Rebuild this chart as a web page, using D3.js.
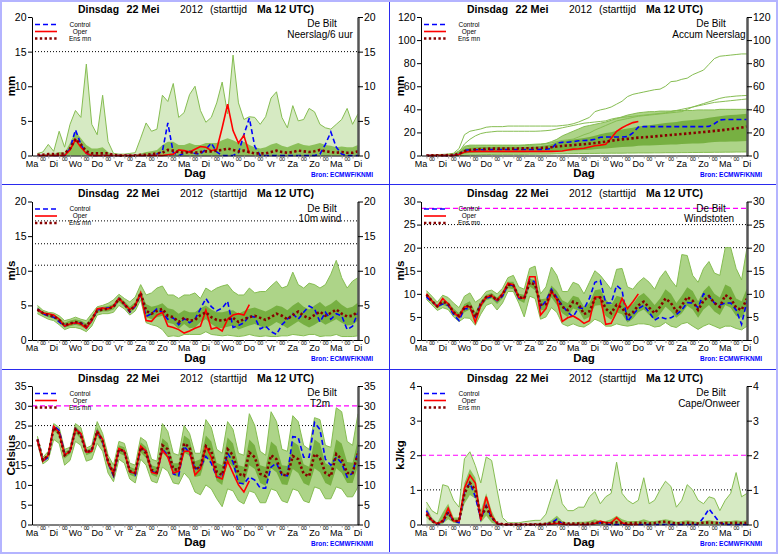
<!DOCTYPE html>
<html>
<head>
<meta charset="utf-8">
<script src="https://cdn.jsdelivr.net/npm/d3@7"></script>
<style>
  body { margin: 0; background: #fff; }
  svg { display: block; font-family: "Liberation Sans", Arial, sans-serif; }
</style>
</head>
<body>
<svg id="chart" width="778" height="554"></svg>
<script>
// x axis: 6-hourly steps, step 0 = Ma 12 UTC, step 60 = Di 12 UTC
const dayLabels = ["Ma", "Di", "Wo", "Do", "Vr", "Za", "Zo", "Ma", "Di", "Wo", "Do", "Vr", "Za", "Zo", "Ma", "Di"];
const titleParts = ["Dinsdag", "22 Mei", "2012", "(starttijd", "Ma 12 UTC)"];
const legendLabels = ["Control", "Oper", "Ens mn"];
const station = "De Bilt";
const source = "Bron: ECMWF/KNMI";

// panel 1: Neerslag/6 uur (mm)
const p1Ctrl = [0,0,0,0,0,0,1.0,3.7,1.6,0.3,
  0,0,0,0,0,0,0,0,0,0,
  0,0,0.2,0.6,4.7,0.4,0,0.3,0.6,0.3,
  0.2,0.9,1.8,0.5,0,0,0,0.4,3.0,5.4,
  1.3,0,0,0,0,0,0,0,0,0,
  0,0,0.2,1.6,3.4,1.2,0.2,0,0,0];
const p1Oper = [0,0,0,0,0,0,0.8,2.3,1.2,0.3,
  0,0,0,0,0,0,0,0,0,0,
  0,0,0,0,0.1,0.2,0.8,0.7,0.5,0.9,
  1.3,1.2,0.7,0.9,4.0,7.4,3.6,1.8,2.9,0.3];
const p1Mean = [0.1,0.1,0.2,0.2,0.2,0.3,1.0,2.4,1.6,0.6,
  0.3,0.3,0.3,0.3,0.1,0,0,0,0,0.1,
  0.1,0.2,0.3,0.4,0.8,0.7,0.5,0.4,0.5,0.4,
  0.5,0.6,0.6,0.7,0.8,1.0,0.8,0.6,0.7,0.5,
  0.3,0.3,0.3,0.5,0.7,0.5,0.4,0.5,0.7,0.6,
  0.5,0.6,0.8,0.6,0.5,0.4,0.5,0.4,0.4,0.6];
const p1Max = [0.3,0.5,1.6,0.6,3.5,1.2,4.5,6.5,5.5,13.2,
  4.5,3.0,8.7,2.0,0.3,0.2,0.2,0.3,0.4,2.5,
  4.7,3.5,3.8,8.7,7.8,10.4,5.5,6.2,8.8,10.0,
  6.5,4.8,5.5,7.6,10.6,6.0,14.5,7.6,5.2,5.6,
  5.5,4.5,5.6,8.3,9.2,5.5,4.0,7.2,5.0,5.2,
  6.8,6.3,4.5,4.0,3.8,4.5,5.2,6.8,4.5,6.0];
const p1Core = [0,0.1,0.3,0.2,0.5,0.4,1.8,3.5,2.5,1.5,
  1.0,1.0,1.2,0.5,0.1,0,0,0.1,0.1,0.3,
  0.5,0.6,0.8,1.5,2.0,2.0,1.5,1.5,1.8,1.5,
  1.5,1.8,1.8,1.8,2.2,2.5,2.2,1.8,2.0,1.5,
  1.2,1.0,1.2,1.6,1.8,1.4,1.2,1.5,1.8,1.5,
  1.4,1.6,1.8,1.5,1.4,1.2,1.3,1.2,1.2,1.5];
const p1Dotted = [15];

// panel 2: Accum Neerslag (mm)
const p2Ctrl = [0,0,0,0,0,0.1,1.0,4.5,5.0,5.0,
  5.0,5.1,5.1,5.2,5.2,5.2,5.2,5.2,5.2,5.2,
  5.2,5.3,5.4,6.0,10.8,11.4,11.5,12.0,12.8,13.0,
  13.2,14.0,15.8,16.0,16.0,16.0,16.0,16.4,19.5,24.6,
  25.0,25.0,25.0,25.0,25.0,25.0,25.0,25.0,25.0,25.0,
  25.0,25.0,25.2,27.5,30.8,31.2,31.2,31.2,31.2,31.2];
const p2Oper = [0,0,0,0,0,0,0.8,3.0,3.5,3.6,
  3.6,3.6,3.6,3.6,3.6,3.6,3.6,3.6,3.6,3.6,
  3.6,3.6,3.6,3.6,3.7,3.9,4.7,5.5,5.8,6.3,
  7.4,8.4,9.0,9.8,15.0,21.0,24.0,26.5,28.5,29.5];
const p2Mean = [0,0.1,0.1,0.2,0.3,0.4,1.5,3.8,4.8,5.3,
  5.6,5.8,6.0,6.0,6.0,6.0,6.0,6.1,6.2,6.3,
  6.4,6.5,6.8,7.2,7.8,8.3,8.7,9.0,9.4,9.8,
  10.3,10.8,11.4,12.0,12.7,13.5,14.0,14.4,15.0,15.5,
  15.8,16.1,16.5,17.0,17.4,17.8,18.2,18.6,19.0,19.5,
  19.9,20.3,20.8,21.3,21.8,22.3,22.9,23.5,24.2,25.0];
const p2Max = [0.3,0.5,0.8,1.0,1.2,1.5,4.0,8.0,9.0,9.0,
  9.0,9.0,9.0,9.0,9.0,9.0,9.0,9.0,9.2,9.5,
  9.8,10.0,10.5,12.0,14.0,17.0,19.0,21.0,23.0,25.0,
  26.0,27.0,28.0,29.0,30.5,32.0,33.5,35.0,36.0,37.0,
  37.5,38.0,38.0,38.5,38.5,38.5,39.0,39.0,39.0,39.0,
  39.5,39.5,39.5,39.5,40.0,40.0,40.0,40.0,40.0,40.0];
const p2Min = [0,0,0,0,0,0,0,0.3,0.5,0.6,
  0.7,0.8,0.9,1.0,1.0,1.0,1.0,1.0,1.0,1.1,
  1.1,1.2,1.2,1.3,1.5,1.5,1.6,1.6,1.7,1.7,
  1.8,1.8,1.9,1.9,2.0,2.0,2.0,2.1,2.1,2.2,
  2.2,2.2,2.3,2.3,2.4,2.4,2.4,2.5,2.5,2.6,
  2.6,2.7,2.7,2.8,2.8,2.9,2.9,3.0,3.0,3.1];
const p2Core = [0,0.1,0.2,0.3,0.4,0.6,2.5,6.0,7.0,7.2,
  7.3,7.4,7.4,7.5,7.5,7.5,7.5,7.6,7.6,7.7,
  7.9,8.2,8.8,9.8,11.5,12.5,13.2,13.8,14.5,15.2,
  16.0,17.2,18.5,19.4,20.2,21.5,22.6,23.4,24.0,25.2,
  25.8,26.2,26.8,27.5,28.2,28.6,29.0,29.8,30.4,30.8,
  31.2,31.8,32.6,33.4,34.0,34.6,35.0,35.4,35.8,36.2];
const p2CoreLow = [0,0,0,0,0,0,0.3,1.5,2.2,2.4,
  2.5,2.5,2.6,2.6,2.6,2.6,2.7,2.7,2.7,2.8,
  2.8,2.9,3.0,3.3,3.8,4.0,4.1,4.3,4.6,4.8,
  5.0,5.4,5.9,6.1,6.4,7.0,7.4,7.6,7.8,8.4,
  8.6,8.7,8.8,9.1,9.4,9.5,9.6,9.9,10.2,10.3,
  10.4,10.7,11.2,11.6,11.9,12.0,12.1,12.2,12.3,12.5];
const p2Member1 = [0,0,0,0.5,1,2,6,18,21,22,
  23,24.5,25,25,25,25.5,25.5,25.5,25.5,25.5,
  25.5,25.5,25.5,25.5,25.5,26,26.5,27.5,29,31,
  33,38,39.5,40.5,42,44.5,47,51,53,54,
  55,56,57,57.5,60,64,64.5,66,67,70,
  72,74,79,84,86,86.5,87,87.5,88,88];
const p2Member2 = [0,0,0,0,0.3,0.8,2.0,7.0,8.0,8.2,
  8.3,8.3,8.4,8.4,8.4,8.5,8.5,8.5,8.6,8.8,
  9.0,9.5,10.2,11.0,12.0,13.0,13.6,14.2,16.0,18.0,
  19.5,22.0,24.0,26.0,28.0,30.0,31.0,32.0,33.0,34.0,
  34.5,35.0,35.5,36.0,36.5,37.0,37.5,38.0,40.0,42.0,
  43.5,45.0,46.5,48.0,49.5,50.5,51.0,51.5,51.8,52.0];
const p2Member3 = [0,0,0,0,0.5,1.0,3.0,10.0,14.0,17.0,
  19.0,20.0,20.5,21.0,21.0,21.0,21.0,21.0,21.0,21.0,
  21.0,21.2,21.5,22.0,23.0,24.0,25.0,26.0,27.0,28.0,
  28.5,29.0,29.5,30.0,31.5,32.5,33.0,33.5,34.0,34.5,
  35.0,35.5,36.0,36.5,37.0,38.0,39.0,40.0,41.0,42.0,
  43.0,44.0,45.0,46.0,46.5,47.0,47.5,48.0,48.5,49.0];

// panel 3: 10m wind (m/s)
const p3Ctrl = [4.5,3.8,3.5,3.3,2.6,2.0,2.5,2.4,2.5,1.7,
  2.8,4.3,4.6,4.6,4.8,6.0,5.2,4.0,4.9,6.6,
  3.4,3.8,4.5,4.0,3.0,3.2,2.2,3.1,2.5,3.0,
  4.5,6.0,4.8,4.2,4.6,5.6,1.8,2.1,2.5,3.5,
  3.3,1.6,2.0,1.2,0.8,2.2,3.0,3.8,3.0,4.0,
  4.9,4.5,2.6,4.0,3.0,3.8,3.5,1.5,2.0,4.0];
const p3Oper = [4.4,3.9,3.8,3.6,3.0,2.0,2.3,2.5,2.3,1.7,
  2.8,4.5,4.6,4.5,4.9,6.0,5.2,4.4,5.0,6.8,
  2.8,2.7,3.6,4.0,2.0,1.8,1.5,1.0,1.3,1.7,
  2.0,4.3,1.6,1.8,1.3,3.0,3.6,3.8,3.6,5.1];
const p3Mean = [4.4,3.9,3.6,3.4,2.9,2.1,2.4,2.6,2.4,2.0,
  3.0,4.2,4.4,4.5,4.8,6.0,5.2,4.2,5.0,6.8,
  4.2,3.8,4.2,4.5,3.5,3.3,2.6,3.2,2.8,2.9,
  3.6,4.0,3.3,2.9,2.8,3.0,3.2,2.6,3.0,3.3,
  3.5,3.2,2.9,3.3,3.8,3.5,3.0,3.6,4.1,3.5,
  3.1,3.6,4.1,3.5,3.9,4.4,3.8,3.4,3.5,4.1];
const p3Max = [5.0,4.3,4.0,3.9,3.5,2.8,3.0,3.3,3.0,2.8,
  3.8,4.8,5.0,5.3,5.8,6.6,6.0,5.5,6.2,8.0,
  6.5,6.8,7.5,7.8,6.5,6.5,6.0,6.5,6.5,6.8,
  6.0,7.5,7.0,7.5,7.8,8.0,7.0,6.5,6.5,7.5,
  6.8,7.0,7.0,7.8,8.5,7.5,7.8,9.8,8.0,7.5,
  8.2,8.0,7.5,8.0,9.5,11.5,9.0,7.5,8.5,9.0];
const p3Min = [3.8,3.4,3.0,2.8,2.2,1.5,1.8,1.8,1.6,1.2,
  2.0,3.6,3.8,3.8,4.0,5.0,4.5,3.6,4.2,5.8,
  2.5,2.2,2.0,1.5,0.5,0.6,0.5,0.8,0.8,0.8,
  0.8,1.2,0.8,0.7,0.6,0.7,0.6,0.5,0.6,0.8,
  0.6,0.5,0.6,0.5,0.5,0.6,0.6,0.8,0.7,0.6,
  0.8,0.8,0.5,0.6,0.6,0.8,0.5,0.5,0.5,0.6];
const p3Core = [4.7,4.1,3.8,3.7,3.2,2.5,2.8,3.0,2.8,2.4,
  3.4,4.6,4.8,4.9,5.2,6.3,5.6,4.8,5.5,7.2,
  5.2,4.8,5.0,5.3,4.6,4.4,3.8,4.3,4.0,4.0,
  4.6,5.0,4.4,4.0,4.0,4.2,4.3,3.8,4.2,4.5,
  4.7,4.4,4.1,4.5,5.0,4.8,4.3,5.0,5.5,4.8,
  4.4,5.0,5.5,4.8,5.2,5.8,5.1,4.6,4.8,5.4];
const p3CoreLow = [4.1,3.6,3.3,3.1,2.6,1.8,2.0,2.2,2.0,1.6,
  2.5,3.9,4.1,4.1,4.4,5.5,4.8,3.9,4.6,6.2,
  3.3,3.0,3.3,3.5,2.5,2.3,1.6,2.3,1.7,1.8,
  2.6,3.0,2.3,1.8,1.7,1.9,2.1,1.5,1.8,2.1,
  2.3,2.0,1.7,2.1,2.6,2.2,1.7,2.2,2.7,2.2,
  1.8,2.2,2.7,2.2,2.6,3.0,2.5,2.1,2.2,2.8];
const p3Dotted = [10.8, 13.9, 17.2];

// panel 4: Windstoten (m/s)
const p4Ctrl = [9.3,8.3,7.3,7.8,7.5,5.5,4.2,6.8,6.8,5.0,
  7.8,9.0,9.4,8.5,9.5,12.0,11.8,9.0,9.0,13.2,
  12.5,7.0,8.5,11.0,9.2,7.5,6.0,5.0,7.0,6.8,
  9.0,12.5,12.9,8.0,8.0,11.8,10.8,4.0,5.5,6.8,
  7.5,6.0,4.3,5.0,4.6,4.8,5.5,6.5,8.1,8.0,
  7.0,10.0,9.5,8.0,7.6,8.0,8.0,6.5,3.4,8.5];
const p4Oper = [10.0,8.5,7.2,9.0,7.8,6.0,5.0,7.2,7.2,3.8,
  7.5,9.3,9.6,8.6,10.0,12.3,12.0,9.2,9.0,13.7,
  13.7,5.4,6.8,10.6,8.7,4.0,4.8,5.2,4.5,3.6,
  4.2,9.3,9.3,3.4,3.6,6.0,9.0,6.8,8.3,10.0];
const p4Mean = [9.8,8.5,7.3,8.3,7.8,6.0,5.2,7.0,7.6,5.0,
  7.8,9.3,9.6,8.6,9.8,12.0,11.8,9.3,9.0,12.5,
  12.0,7.6,7.8,10.5,9.0,7.2,6.5,8.3,7.8,5.6,
  6.2,9.0,9.2,6.8,5.8,7.6,7.0,5.2,6.0,7.5,
  8.3,7.0,5.8,7.2,9.0,8.0,6.2,7.5,9.3,8.5,
  6.5,8.5,9.5,8.0,7.2,9.7,9.0,7.0,6.5,9.0];
const p4Max = [10.7,9.5,8.2,9.7,9.2,8.0,7.0,9.5,10.2,8.2,
  9.0,10.5,10.8,10.0,11.2,13.5,14.0,11.5,11.0,15.5,
  16.0,10.0,11.5,15.8,14.0,10.5,10.5,12.5,12.0,10.0,
  12.5,15.0,14.0,12.5,11.0,15.3,15.5,11.5,11.0,12.5,
  13.5,12.5,11.0,13.5,15.0,13.0,11.5,18.5,18.3,14.0,
  12.5,15.5,17.0,14.5,14.0,20.0,20.0,15.5,13.0,20.0];
const p4Min = [8.8,7.6,6.4,7.0,6.6,5.0,4.0,4.8,4.7,3.2,
  5.6,7.5,8.0,6.5,8.0,10.5,10.5,8.0,5.0,9.5,
  9.0,4.5,5.0,7.0,6.0,3.5,3.0,3.5,3.0,2.8,
  3.5,4.5,4.0,3.0,3.0,3.5,3.2,3.0,3.2,3.5,
  3.5,3.3,2.8,3.0,3.8,3.0,2.7,3.5,3.8,3.0,
  2.3,3.0,3.5,3.0,2.5,3.0,3.0,2.5,2.2,3.0];
const p4Core = [10.0,8.8,7.6,8.6,8.2,6.8,5.8,7.8,8.4,6.0,
  8.4,9.8,10.2,9.2,10.4,12.6,12.6,10.0,9.8,13.2,
  13.0,8.8,9.0,11.8,10.6,8.6,8.0,9.6,9.2,7.2,
  8.0,10.8,11.0,8.8,7.6,9.6,9.2,7.2,7.8,9.4,
  10.2,9.0,7.6,9.0,11.0,10.0,8.0,9.6,11.4,10.6,
  8.4,10.6,11.8,10.0,9.2,12.0,11.4,9.0,8.4,11.2];
const p4CoreLow = [9.3,8.0,6.9,7.6,7.2,5.4,4.6,6.0,6.6,4.2,
  7.0,8.6,9.0,7.8,9.0,11.2,11.0,8.6,8.0,11.6,
  10.8,6.4,6.6,9.2,7.6,5.8,5.0,6.8,6.4,4.4,
  5.0,7.4,7.6,5.2,4.4,6.0,5.6,3.8,4.6,6.0,
  6.6,5.4,4.4,5.6,7.2,6.2,4.8,5.8,7.4,6.6,
  4.8,6.6,7.6,6.2,5.4,7.6,7.0,5.2,4.8,7.0];
const p4Dotted = [20, 25];
const p4Warning = [28.5];

// panel 5: T2m (Celsius)
const p5Ctrl = [21.5,16.0,17.0,25.0,23.8,18.0,18.5,24.2,22.8,18.3,
  18.8,23.5,21.0,15.5,12.3,19.0,18.5,13.5,12.5,19.5,
  18.5,13.5,12.8,19.0,17.5,12.8,12.3,19.8,18.0,14.0,
  14.5,17.2,15.5,12.0,11.8,18.0,15.8,10.5,10.3,12.0,
  11.2,9.2,9.2,14.5,15.5,12.5,12.3,22.2,22.0,17.0,
  17.0,25.8,24.0,16.5,15.0,17.0,15.5,12.0,13.0,18.5];
const p5Oper = [21.2,16.0,17.5,24.8,23.2,17.5,18.5,24.0,23.0,18.3,
  18.5,23.5,21.5,15.5,13.0,19.2,18.5,13.3,13.0,19.8,
  18.5,13.2,12.8,18.8,17.0,13.0,13.5,18.5,18.5,12.5,
  14.0,19.8,17.0,12.0,11.5,16.0,13.0,10.0,8.2,11.0];
const p5Mean = [21.5,16.3,17.5,24.5,23.0,17.5,18.5,24.0,22.5,18.2,
  18.8,23.5,21.0,16.0,12.8,19.0,18.5,13.5,13.0,19.5,
  18.0,13.8,13.2,20.0,19.0,14.0,13.8,20.5,19.5,14.0,
  14.5,19.8,18.5,13.3,12.5,19.0,17.5,12.8,12.3,18.2,
  17.0,12.8,12.2,17.5,16.5,12.6,12.4,17.3,16.5,12.8,
  12.2,17.8,16.8,13.0,12.2,17.8,16.5,13.0,13.0,18.0];
const p5Max = [22.3,17.0,18.5,25.5,24.5,19.0,19.5,25.5,24.5,19.3,
  20.0,26.0,23.0,17.5,15.0,21.0,20.5,15.5,15.0,22.0,
  21.0,16.5,16.0,25.5,23.5,18.0,17.5,25.0,23.0,18.0,
  18.0,26.5,24.5,19.0,18.0,26.0,24.0,18.0,17.5,28.0,
  25.0,18.5,17.5,28.5,26.0,19.0,18.5,27.5,26.0,20.0,
  19.0,27.0,26.5,20.0,19.5,29.5,28.5,21.0,20.0,28.0];
const p5Min = [20.5,15.3,16.3,21.5,20.5,15.0,16.2,21.0,20.0,16.0,
  16.5,20.5,18.5,13.0,10.8,16.5,15.5,11.5,10.5,16.5,
  15.0,11.0,10.5,14.5,13.5,10.5,10.2,13.0,11.5,8.2,
  7.5,10.0,9.0,6.5,4.5,9.0,8.5,6.0,5.2,8.5,
  8.0,5.5,5.5,9.0,8.5,6.0,5.5,9.0,8.5,6.0,
  5.5,9.5,9.0,6.5,6.5,9.5,9.0,7.0,7.0,9.5];
const p5Core = [21.9,16.6,17.9,24.9,23.7,18.4,19.0,24.8,23.4,18.8,
  19.4,24.5,22.0,16.6,13.8,20.0,19.5,14.6,14.0,20.8,
  19.6,15.0,14.5,21.8,20.6,15.5,15.5,22.5,21.5,16.0,
  16.5,22.5,21.0,15.6,15.0,22.0,20.5,15.0,14.6,21.5,
  20.0,15.0,14.5,21.0,19.8,15.0,14.8,21.0,20.0,15.2,
  14.6,21.5,20.5,15.5,14.8,21.5,20.5,15.8,15.6,21.5];
const p5CoreLow = [21.1,15.9,17.0,23.9,22.3,16.7,17.8,23.1,21.6,17.5,
  18.1,22.4,20.0,14.8,11.9,18.0,17.4,12.6,12.0,18.2,
  16.8,12.6,12.0,18.0,17.2,12.5,12.0,18.2,17.4,12.0,
  12.3,17.0,15.8,11.0,10.0,16.0,14.5,10.5,10.0,15.0,
  14.0,10.5,9.8,14.2,13.2,10.2,10.0,14.0,13.0,10.4,
  9.8,14.2,13.2,10.5,9.8,14.2,13.0,10.5,10.5,14.8];
const p5Dotted = [25];
const p5Warning = [30];

// panel 6: Cape/Onweer (kJ/kg)
const p6Ctrl = [0.4,0.12,0,0.05,0.35,0.1,0.05,0.95,1.2,0.8,
  0.15,0.55,0.2,0.02,0,0,0,0,0,0,
  0,0,0,0.05,0.15,0.02,0,0,0,0,
  0,0.03,0.05,0.02,0,0,0,0,0,0,
  0,0,0,0,0,0,0,0,0,0,
  0,0.2,0.45,0.25,0.05,0,0,0,0,0];
const p6Oper = [0.35,0.12,0.02,0.1,0.47,0.1,0.1,1.05,1.42,1.2,
  0.12,0.8,0.25,0.02,0,0,0,0,0,0,
  0,0,0,0.01,0.03,0.01,0,0,0,0,
  0,0.03,0.1,0.05,0.05,0.2,0.05,0,0,0];
const p6Mean = [0.3,0.1,0.02,0.1,0.35,0.1,0.1,0.9,1.2,1.0,
  0.2,0.5,0.2,0.05,0.01,0,0,0,0,0,
  0,0.01,0.02,0.04,0.07,0.04,0.03,0.03,0.03,0.02,
  0.03,0.05,0.05,0.04,0.04,0.06,0.04,0.03,0.04,0.05,
  0.04,0.03,0.04,0.07,0.08,0.05,0.03,0.04,0.05,0.04,
  0.03,0.05,0.06,0.05,0.04,0.04,0.04,0.05,0.04,0.05];
const p6Max = [0.65,0.4,0.3,1.15,1.1,0.7,0.5,1.9,2.1,1.7,
  1.2,1.95,1.85,1.0,0.2,0.05,0.05,0.05,0.08,0.1,
  0.12,0.12,0.3,0.8,1.3,0.6,0.4,0.4,0.5,0.5,
  0.8,0.95,0.6,0.8,0.9,1.8,0.9,0.7,0.6,0.7,
  1.35,0.6,0.7,1.0,1.25,1.1,0.5,0.7,1.15,1.0,
  0.7,0.6,0.8,0.75,0.4,0.7,0.9,1.5,0.8,0.9];
const p6Core = [0.5,0.2,0.05,0.35,0.6,0.2,0.2,1.2,1.6,1.35,
  0.4,0.9,0.4,0.05,0,0,0,0,0,0.02,
  0.03,0.03,0.05,0.12,0.25,0.1,0.05,0.05,0.08,0.08,
  0.1,0.15,0.1,0.1,0.15,0.25,0.15,0.1,0.1,0.1,
  0.15,0.1,0.1,0.12,0.15,0.12,0.08,0.1,0.12,0.1,
  0.08,0.1,0.12,0.1,0.08,0.1,0.1,0.12,0.1,0.12];
const p6CoreLow = [0.2,0.05,0,0.02,0.15,0.05,0.02,0.6,0.85,0.75,
  0.05,0.25,0.05,0,0,0,0,0,0,0,
  0,0,0,0,0,0,0,0,0,0,
  0,0,0,0,0,0,0,0,0,0,
  0,0,0,0,0,0,0,0,0,0,
  0,0,0,0,0,0,0,0,0,0];
const p6Dotted = [1];
const p6Warning = [2];

const panels = [
  { col: 0, row: 0, max: 20, step: 5, unit: "mm", name: "Neerslag/6 uur", ctrl: p1Ctrl, oper: p1Oper, mean: p1Mean,
    hi: p1Max, lo: null, core: p1Core, coreLow: null, members: [], dotted: p1Dotted, warning: [], sparse: true },
  { col: 1, row: 0, max: 120, step: 20, unit: "mm", name: "Accum Neerslag", ctrl: p2Ctrl, oper: p2Oper, mean: p2Mean,
    hi: p2Max, lo: p2Min, core: p2Core, coreLow: p2CoreLow, members: [p2Member1, p2Member2, p2Member3], dotted: [], warning: [] },
  { col: 0, row: 1, max: 20, step: 5, unit: "m/s", name: "10m wind", ctrl: p3Ctrl, oper: p3Oper, mean: p3Mean,
    hi: p3Max, lo: p3Min, core: p3Core, coreLow: p3CoreLow, members: [], dotted: p3Dotted, warning: [] },
  { col: 1, row: 1, max: 30, step: 5, unit: "m/s", name: "Windstoten", ctrl: p4Ctrl, oper: p4Oper, mean: p4Mean,
    hi: p4Max, lo: p4Min, core: p4Core, coreLow: p4CoreLow, members: [], dotted: p4Dotted, warning: p4Warning },
  { col: 0, row: 2, max: 35, step: 5, unit: "Celsius", name: "T2m", ctrl: p5Ctrl, oper: p5Oper, mean: p5Mean,
    hi: p5Max, lo: p5Min, core: p5Core, coreLow: p5CoreLow, members: [], dotted: p5Dotted, warning: p5Warning },
  { col: 1, row: 2, max: 4, step: 1, unit: "kJ/kg", name: "Cape/Onweer", ctrl: p6Ctrl, oper: p6Oper, mean: p6Mean,
    hi: p6Max, lo: null, core: p6Core, coreLow: p6CoreLow, members: [], dotted: p6Dotted, warning: p6Warning, sparse: true },
];

const svg = d3.select("#chart");
svg.append("rect").attr("width", 778).attr("height", 554).attr("fill", "#fff");

const plotLeft = 32, plotRight = 358, plotTop = 17, plotBottom = 155.5;
const x = d3.scaleLinear().domain([0, 60]).range([plotLeft, plotRight]);
const oddSteps = d3.range(1, 60, 2);

const drawPanel = p => {
  const g = svg.append("g").attr("transform", `translate(${p.col * 389},${p.row * 184.5})`);
  const y = d3.scaleLinear().domain([0, p.max]).range([plotBottom, plotTop]);
  const line = d3.line().x((d, i) => x(i + 1)).y(d => y(d));
  const band = (upper, lower) => d3.area()
    .x((d, i) => x(i + 1))
    .y0((d, i) => y(lower ? lower[i] : 0))
    .y1(d => y(d))(upper);

  // title
  const title = g.append("text").attr("y", 12.5).attr("font-size", 11);
  const titleX = [78, 126.5, 180, 210, 257];
  const titleW = [41, 33, 23, 37, 57];
  titleParts.forEach((t, i) => {
    title.append("tspan").attr("x", titleX[i]).text(t)
      .attr("textLength", titleW[i]).attr("lengthAdjust", "spacingAndGlyphs")
      .attr("font-weight", i == 2 || i == 3 ? "normal" : "bold");
  });

  // reference lines
  p.dotted.forEach(v => {
    g.append("line").attr("x1", plotLeft).attr("x2", plotRight).attr("y1", y(v)).attr("y2", y(v))
      .attr("stroke", "#000").attr("stroke-width", 1).attr("stroke-dasharray", "1,2");
  });
  p.warning.forEach(v => {
    g.append("line").attr("x1", plotLeft).attr("x2", plotRight).attr("y1", y(v)).attr("y2", y(v))
      .attr("stroke", "#ff00ff").attr("stroke-width", 1.2).attr("stroke-dasharray", "5,3");
  });

  // ensemble plume: outer envelope, dense core, envelope edges
  g.append("path").attr("d", band(p.hi, p.lo))
    .attr("fill", p.sparse ? "#d6eac3" : "#add488").attr("stroke", "none");
  g.append("path").attr("d", band(p.core, p.coreLow))
    .attr("fill", p.sparse ? "#8cc05a" : "#77b042").attr("stroke", "none");
  [p.hi, p.lo, ...p.members].filter(d => d).forEach(d => {
    g.append("path").datum(d).attr("d", line)
      .attr("fill", "none").attr("stroke", "#86bd52").attr("stroke-width", 1);
  });

  // control, operational run, ensemble mean
  g.append("path").datum(p.ctrl).attr("d", line)
    .attr("fill", "none").attr("stroke", "#0000ff").attr("stroke-width", 1.6).attr("stroke-dasharray", "5,3");
  g.append("path").datum(p.oper).attr("d", line)
    .attr("fill", "none").attr("stroke", "#ff0000").attr("stroke-width", 1.6);
  g.append("path").datum(p.mean).attr("d", line)
    .attr("fill", "none").attr("stroke", "#880000").attr("stroke-width", 2.6).attr("stroke-dasharray", "2.4,2.4");

  // axes
  const ticks = d3.range(0, p.max + p.step / 2, p.step);
  const fmt = d3.format("d");
  const yl = g.append("g").attr("transform", `translate(${plotLeft},0)`)
    .call(d3.axisLeft(y).tickValues(ticks).tickFormat(fmt).tickSize(4).tickPadding(1.5).tickSizeOuter(0));
  const yr = g.append("g").attr("transform", `translate(${plotRight},0)`)
    .call(d3.axisRight(y).tickValues(ticks).tickFormat(fmt).tickSize(5).tickPadding(1).tickSizeOuter(0));
  yr.select(".domain").attr("stroke", "#555").attr("stroke-width", 2.5);
  [yl, yr].forEach(a => a.attr("font-size", 10.5).attr("font-family", "Liberation Sans, Arial, sans-serif"));

  const xa = g.append("g").attr("transform", `translate(0,${plotBottom})`)
    .call(d3.axisBottom(x).tickValues(oddSteps).tickSize(3).tickFormat("").tickSizeOuter(0));
  xa.selectAll(".tick line").attr("stroke", "#999");

  dayLabels.forEach((d, i) => {
    g.append("text").attr("x", x(i * 4)).attr("y", 166.5).attr("text-anchor", "middle")
      .attr("font-size", 9).text(d);
    if (i < dayLabels.length - 1) {
      g.append("text").attr("x", x(i * 4 + 2)).attr("y", 160.5).attr("text-anchor", "middle")
        .attr("font-size", 5.5).attr("letter-spacing", -0.4).text("00");
    }
  });

  g.append("text").attr("x", 195).attr("y", 177).attr("text-anchor", "middle")
    .attr("font-size", 11.5).attr("font-weight", "bold").text("Dag");
  g.append("text").attr("transform", "translate(15,86) rotate(-90)").attr("text-anchor", "middle")
    .attr("font-size", 11.5).attr("font-weight", "bold").text(p.unit);
  g.append("text").attr("x", 311).attr("y", 176.5).attr("font-size", 7).attr("font-weight", "bold")
    .attr("fill", "#0000ff").attr("textLength", 62).attr("lengthAdjust", "spacingAndGlyphs").text(source);

  // station / parameter
  g.append("text").attr("x", 322).attr("y", 27).attr("text-anchor", "middle").attr("font-size", 10).text(station);
  g.append("text").attr("x", 320).attr("y", 37.5).attr("text-anchor", "middle").attr("font-size", 10).text(p.name);

  // legend
  const legendStyles = [
    { stroke: "#0000ff", width: 1.6, dash: "5,3" },
    { stroke: "#ff0000", width: 1.6, dash: null },
    { stroke: "#880000", width: 2.6, dash: "2.4,2.4" },
  ];
  const legendY = [24.5, 31.5, 38.5];
  legendLabels.forEach((d, i) => {
    g.append("line").attr("x1", 35).attr("x2", 57).attr("y1", legendY[i]).attr("y2", legendY[i])
      .attr("stroke", legendStyles[i].stroke).attr("stroke-width", legendStyles[i].width)
      .attr("stroke-dasharray", legendStyles[i].dash);
    g.append("text").attr("x", 80).attr("y", legendY[i] + 2.3).attr("text-anchor", "middle")
      .attr("font-size", 6.5).text(d);
  });
};

panels.forEach(drawPanel);

// panel frames
svg.append("line").attr("x1", 389.5).attr("x2", 389.5).attr("y1", 0).attr("y2", 554).attr("stroke", "#2a2aee");
[184.5, 369.5].forEach(v => {
  svg.append("line").attr("x1", 0).attr("x2", 778).attr("y1", v).attr("y2", v).attr("stroke", "#2a2aee");
});
svg.append("rect").attr("x", 0.5).attr("y", 0.5).attr("width", 777).attr("height", 553)
  .attr("fill", "none").attr("stroke", "#b4b4ff").attr("stroke-width", 3);
</script>
</body>
</html>
